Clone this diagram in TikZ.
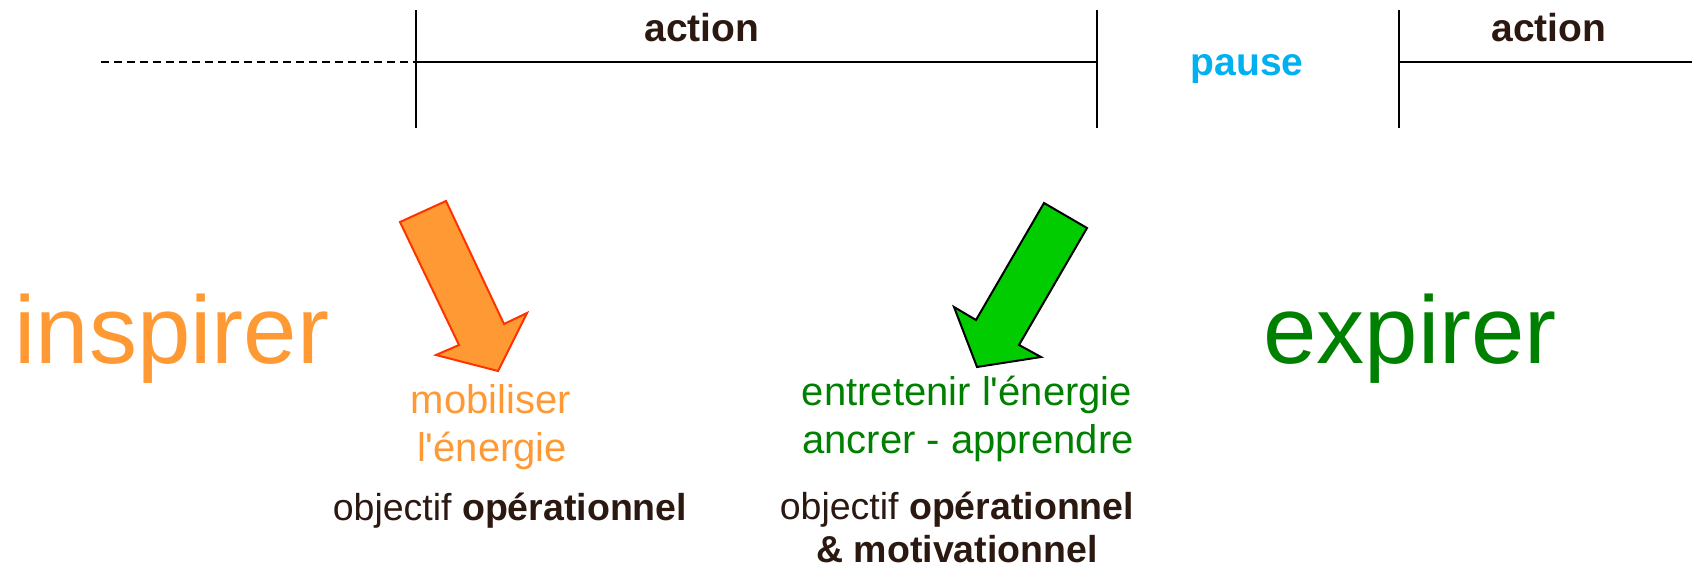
\documentclass[tikz,border=0pt]{standalone}
\usepackage{fontspec}
\setmainfont{Liberation Sans}
\definecolor{txtdark}{RGB}{43,24,16}
\definecolor{orangetxt}{RGB}{255,153,51}
\definecolor{greentxt}{RGB}{0,128,0}
\definecolor{pausecol}{RGB}{0,176,240}
\definecolor{arroworange}{RGB}{255,153,51}
\definecolor{arrowred}{RGB}{255,51,0}
\definecolor{arrowgreen}{RGB}{0,204,0}
\tikzset{
  lbl/.style={inner sep=0pt, anchor=base},
  toplbl/.style={lbl, font=\fontsize{39}{47}\selectfont\bfseries, text=txtdark},
  big/.style={lbl, font=\fontsize{96}{110}\selectfont},
  mid/.style={lbl, font=\fontsize{40}{48}\selectfont},
  obj/.style={lbl, font=\fontsize{37.5}{44}\selectfont, text=txtdark},
  tline/.style={line width=2pt, black},
  tick/.style={line width=2pt, black},
}
\begin{document}
\begin{tikzpicture}[x=1pt,y=-1pt]
\useasboundingbox (0,0) rectangle (1694,570);
% timeline
\coordinate (d0) at (101,62);
\coordinate (t1) at (416,62);
\coordinate (t2) at (1097,62);
\coordinate (t3) at (1399,62);
\coordinate (tend) at (1692,62);
\coordinate (t1a) at (416,10); \coordinate (t1b) at (416,128);
\coordinate (t2a) at (1097,10); \coordinate (t2b) at (1097,128);
\coordinate (t3a) at (1399,10); \coordinate (t3b) at (1399,128);
\draw[tline, dash pattern=on 8pt off 5pt] (d0) -- (t1);
\draw[tline] (t1) -- (t2);
\draw[tline] (t3) -- (tend);
\draw[tick] (t1a) -- (t1b);
\draw[tick] (t2a) -- (t2b);
\draw[tick] (t3a) -- (t3b);
\node[toplbl] (act1) at (702,41) {action};
\node[toplbl, text=pausecol] (pause) at (1247,75) {pause};
\node[toplbl] (act2) at (1549,41) {action};
% big words
\node[big, text=orangetxt] (insp) at (172,363) {inspirer};
\node[big, text=greentxt] (expi) at (1410,363) {expirer};
% arrows
\draw[line width=2pt, draw=arrowred, fill=arroworange, line join=miter]
  (400,222) -- (446,201) -- (504,324) -- (527,313) -- (498,371) -- (436,355) -- (459,345) -- cycle;
\draw[line width=2pt, draw=black, fill=arrowgreen, line join=miter]
  (1044,203) -- (1087,228) -- (1019,345) -- (1041,357) -- (977,367) -- (954,307) -- (976,320) -- cycle;
% left texts
\node[mid, text=orangetxt] (mob1) at (491,413) {mobiliser};
\node[mid, text=orangetxt] (mob2) at (492,461) {l\textquotesingle énergie};
\node[obj] (obj1) at (510,520) {objectif \textbf{opérationnel}};
% right texts
\node[mid, text=greentxt] (ent1) at (967,405) {entretenir l\textquotesingle énergie};
\node[mid, text=greentxt] (ent2) at (968,453) {ancrer - apprendre};
\node[obj] (obj2) at (957,519) {objectif \textbf{opérationnel}};
\node[obj] (obj3) at (957,562) {\textbf{\& motivationnel}};
\end{tikzpicture}
\end{document}
